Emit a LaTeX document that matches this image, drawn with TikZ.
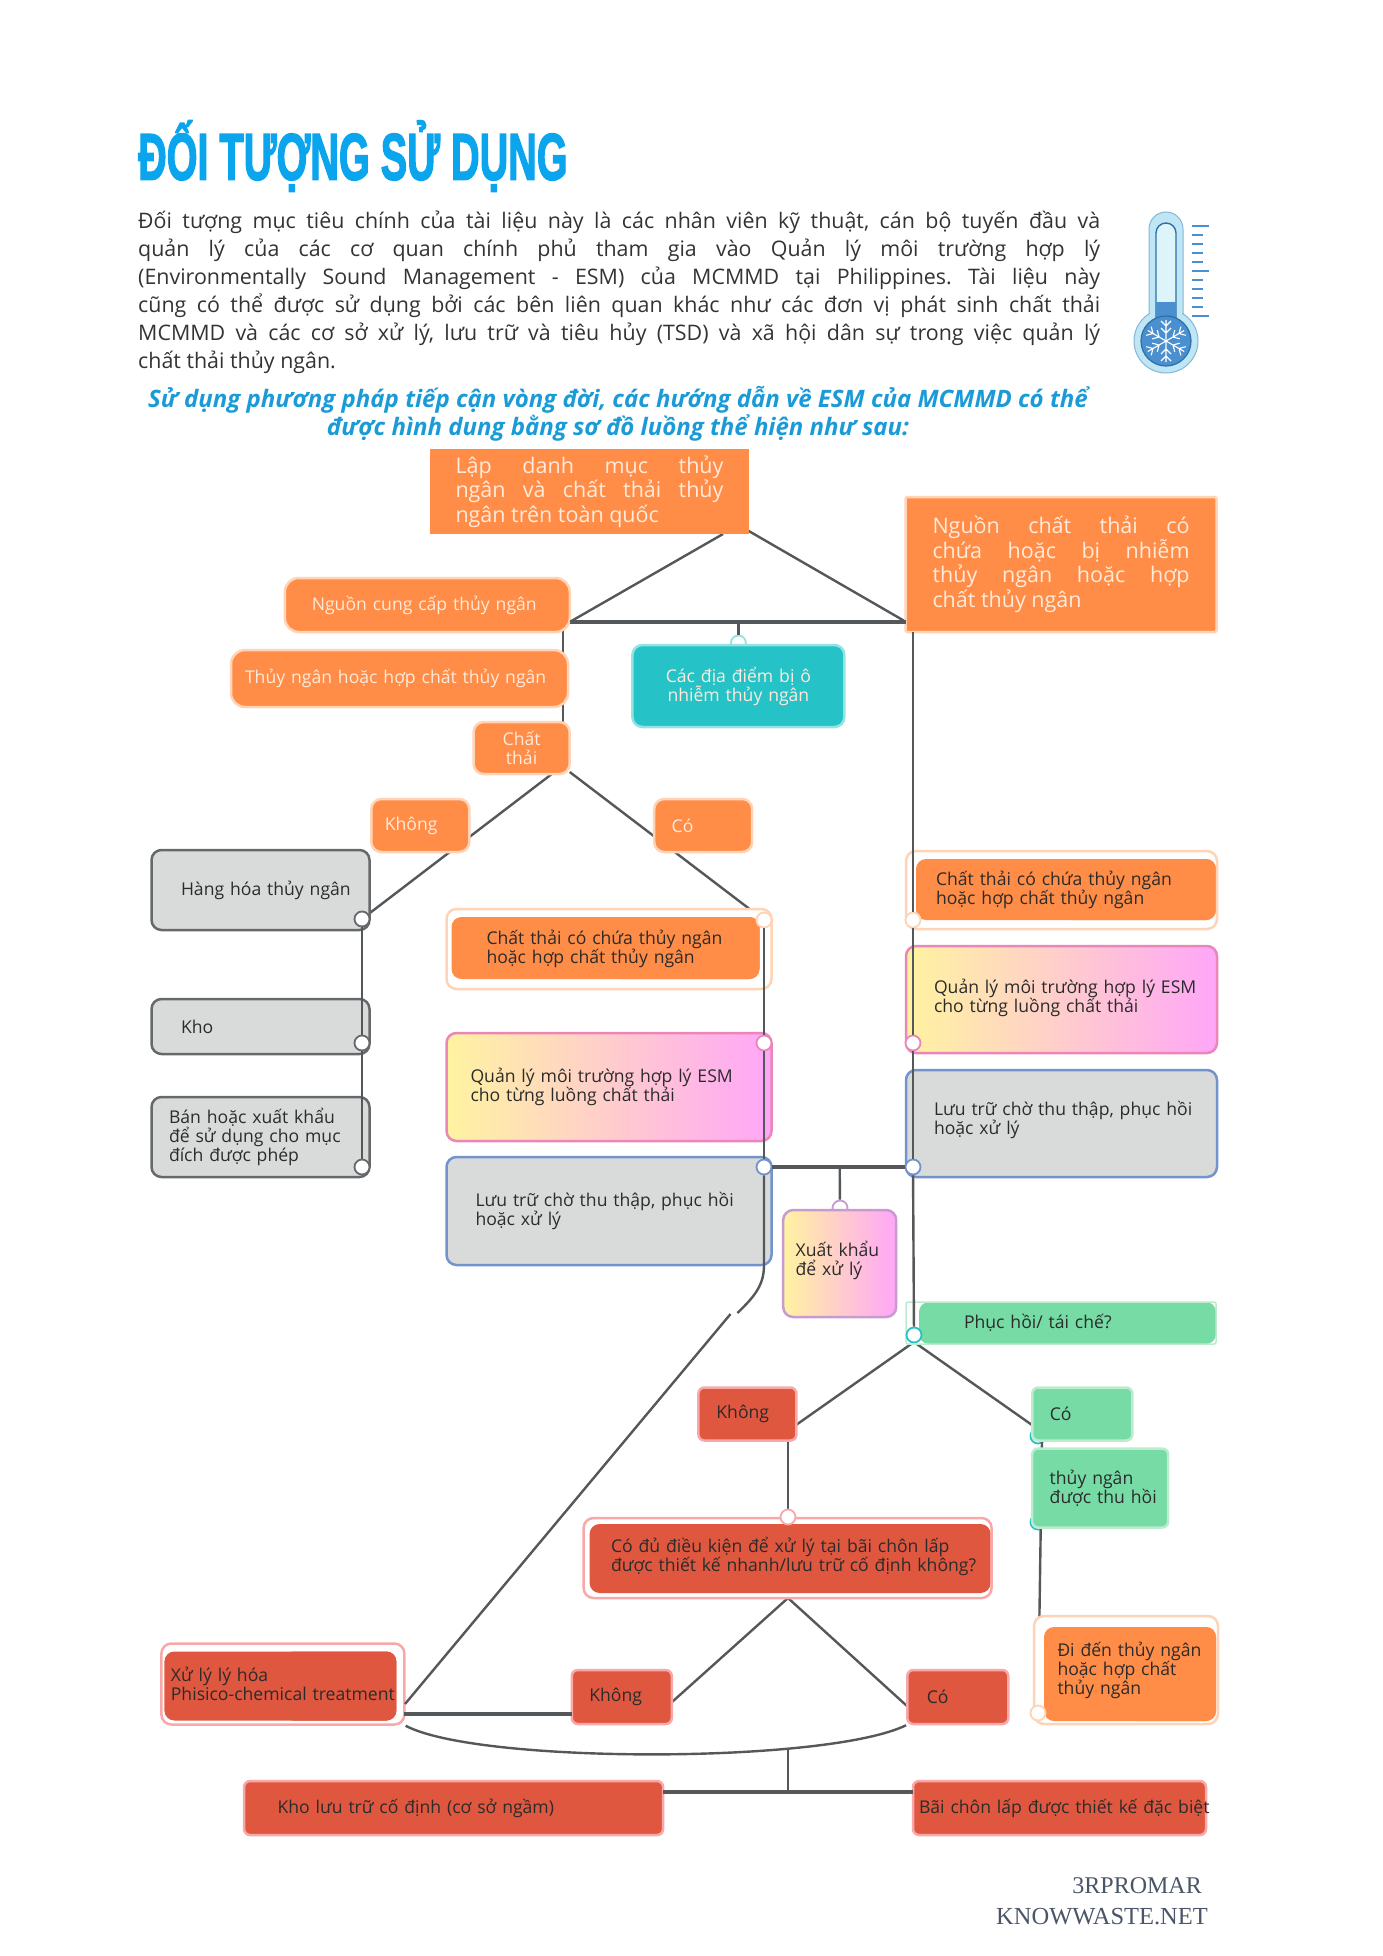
\documentclass[tikz,border=0pt]{standalone}
\usepackage{fontspec}
\setmainfont{Open Sans}
\newfontfamily\titlefont[BoldFeatures={FakeBold=2.5}]{Liberation Sans}
\newfontfamily\footfont{Liberation Serif}
\usetikzlibrary{backgrounds}
\definecolor{titleblue}{HTML}{0AA5EC}
\definecolor{subblue}{HTML}{1A9BD7}
\definecolor{inkdark}{HTML}{2B2B2B}
\definecolor{inkpara}{HTML}{333333}
\definecolor{wire}{HTML}{55585A}
\definecolor{paper}{HTML}{FFEADB}
\definecolor{orangefill}{HTML}{FF8D47}
\definecolor{orangeline}{HTML}{FFD3B5}
\definecolor{tealfill}{HTML}{25C3C7}
\definecolor{tealline}{HTML}{93E3E3}
\definecolor{greyfill}{HTML}{D9DBDB}
\definecolor{greyline}{HTML}{66696B}
\definecolor{redfill}{HTML}{E0573F}
\definecolor{redline}{HTML}{F8A8A8}
\definecolor{greenfill}{HTML}{76DBA5}
\definecolor{greenline}{HTML}{BDEBCD}
\definecolor{gradlo}{HTML}{FFF3A0}
\definecolor{gradhi}{HTML}{FFA6F8}
\definecolor{pinkline}{HTML}{EA86B8}
\definecolor{blueline}{HTML}{7393CC}
\definecolor{mauveline}{HTML}{C79BD0}
\definecolor{thermolight}{HTML}{BFE6F5}
\definecolor{thermotube}{HTML}{DDF4FA}
\definecolor{thermoblue}{HTML}{4A8FD0}
\definecolor{thermodark}{HTML}{2F6FA8}
\definecolor{footink}{HTML}{4A5568}
\tikzset{
  basebox/.style={inner sep=0pt, align=left, font=\fontsize{17.6}{19}\selectfont, text=inkdark, line width=2.5pt, rounded corners=10pt},
  orangebox/.style={basebox, fill=orangefill, draw=orangeline, text=paper},
  bigorange/.style={orangebox, align=justify, font=\fontsize{21.5}{24.5}\selectfont, rounded corners=2pt},
  greybox/.style={basebox, fill=greyfill, draw=greyline},
  gradpink/.style={basebox, left color=gradlo, right color=gradhi, draw=pinkline},
  gradblue/.style={basebox, fill=greyfill, draw=blueline},
  redbox/.style={basebox, fill=redfill, draw=redline, rounded corners=6pt},
  greenbox/.style={basebox, fill=greenfill, draw=greenline, rounded corners=6pt},
  insetbox/.style n args={5}{fill=white, path picture={\fill[#1, rounded corners=10pt] ([xshift=#2pt,yshift=-#3pt]path picture bounding box.north west) rectangle ([xshift=-#4pt,yshift=#5pt]path picture bounding box.south east);}},
  insetsquare/.style n args={5}{fill=white, path picture={\fill[#1, rounded corners=10pt] ([xshift=#2pt,yshift=-#3pt]path picture bounding box.north west) rectangle ([xshift=-#4pt,yshift=#5pt]path picture bounding box.south east);
    \fill[#1] ([yshift=-#3pt]path picture bounding box.north) rectangle ([xshift=-#4pt,yshift=#5pt]path picture bounding box.south east);}},
  portdot/.style={circle, fill=white, line width=1.8pt, inner sep=0pt, minimum size=15pt},
  link/.style={draw=wire, line width=2.4pt},
  thicklink/.style={draw=wire, line width=3.6pt}
}
\begin{document}
\begin{tikzpicture}[x=1pt,y=-1pt]
  \useasboundingbox (0,0) rectangle (1383,1956);
  % heading and paragraph
  \node (title) [anchor=west, inner sep=0pt, xscale=0.6, text=titleblue, font=\titlefont\bfseries\fontsize{66}{70}\selectfont] at (138,156) {ĐỐI TƯỢNG SỬ DỤNG};
  \node (para) [anchor=north west, inner sep=0pt, text width=962pt, align=justify, text=inkpara, font=\frenchspacing\fontsize{21.4}{27.9}\selectfont] at (138,211) {Đối tượng mục tiêu chính của tài liệu này là các nhân viên kỹ thuật, cán bộ tuyến đầu và\linebreak
  quản lý của các cơ quan chính phủ tham gia vào Quản lý môi trường hợp lý\linebreak
  (Environmentally Sound Management - ESM) của MCMMD tại Philippines. Tài liệu này\linebreak
  cũng có thể được sử dụng bởi các bên liên quan khác như các đơn vị phát sinh chất thải\linebreak
  MCMMD và các cơ sở xử lý, lưu trữ và tiêu hủy (TSD) và xã hội dân sự trong việc quản lý\linebreak
  chất thải thủy ngân.};
  \node (lead) [inner sep=0pt, align=center, text=subblue, font=\bfseries\itshape\fontsize{24}{28.5}\selectfont] at (618,414) {Sử dụng phương pháp tiếp cận vòng đời, các hướng dẫn về ESM của MCMMD có thể\\được hình dung bằng sơ đồ luồng thể hiện như sau:};
  % thermometer
  \fill[thermolight, draw=thermodark!40!thermolight, line width=1pt] (1149,320) -- (1149,229) arc (180:360:17) -- (1183,320) -- cycle;
  \fill[thermolight, draw=thermodark!40!thermolight, line width=1pt] (1166,341) circle (32);
  \fill[thermolight] (1150,300) rectangle (1182,330);
  \fill[thermotube, draw=thermodark, line width=1.4pt] (1156,330) -- (1156,233) arc (180:360:10) -- (1176,330) -- cycle;
  \fill[thermoblue] (1156,302) rectangle (1176,335);
  \fill[thermoblue, draw=thermodark, line width=1.2pt] (1166,341) circle (25);
  \foreach \ang in {0,60,...,300}
    \draw[white, line width=1.1pt, rotate around={\ang:(1166,341)}] (1166,341) -- (1166,320) (1166,326) -- (1161,321) (1166,326) -- (1171,321) (1166,333) -- (1161,328) (1166,333) -- (1171,328);
  \foreach \k in {0,...,10}
    \draw[thermoblue, line width=2pt] (1192,226+9*\k) -- (1203,226+9*\k);
  \foreach \k in {0,5,10}
    \draw[thermoblue, line width=2pt] (1192,226+9*\k) -- (1209,226+9*\k);
  % boxes, top
  \node (lap) [bigorange, draw=none, minimum width=319pt, minimum height=85pt, text width=268pt, rounded corners=0pt] at (589.5,491.5) {Lập danh mục thủy\linebreak ngân và chất thải thủy\linebreak ngân trên toàn quốc};
  \node (nguonchat) [bigorange, minimum width=311pt, minimum height=135pt, text width=257pt] at (1061,564.5) {Nguồn chất thải có\linebreak chứa hoặc bị nhiễm\linebreak thủy ngân hoặc hợp\linebreak chất thủy ngân};
  \node (nguoncung) [orangebox, minimum width=285pt, minimum height=54pt, text width=231pt, rounded corners=14pt] at (427.3,605) {Nguồn cung cấp thủy ngân};
  \node (thuyngan) [orangebox, minimum width=337pt, minimum height=57pt, text width=309pt, rounded corners=14pt] at (399.5,678.5) {\mbox{Thủy ngân hoặc hợp chất thủy ngân}};
  \node (diadiem) [basebox, fill=tealfill, draw=tealline, text=paper, align=center, minimum width=212pt, minimum height=82pt, text width=180pt] at (738.4,686) {Các địa điểm bị ô\\nhiễm thủy ngân};
  \node (chatthai) [orangebox, align=center, minimum width=96pt, minimum height=52pt, text width=70pt] at (521.6,748) {Chất\\thải};
  \node (khong) [orangebox, minimum width=98pt, minimum height=53pt, text width=71pt] at (420.3,825.5) {Không};
  \node (co) [orangebox, minimum width=98pt, minimum height=53pt, text width=63pt] at (703.2,825.5) {Có};
  % boxes, left column
  \node (hanghoa) [greybox, minimum width=218pt, minimum height=80pt, text width=159pt] at (260.5,890) {\mbox{Hàng hóa thủy ngân}};
  \node (kho) [greybox, minimum width=218pt, minimum height=55pt, text width=159pt] at (260.5,1026.5) {Kho};
  \node (ban) [greybox, minimum width=218pt, minimum height=80pt, text width=183pt] at (260.5,1137) {Bán hoặc xuất khẩu\\để sử dụng cho mục\\đích được phép};
  % boxes, middle column
  \node (chatl) [basebox, draw=orangeline, insetsquare={orangefill}{5}{8}{12}{10}, minimum width=325pt, minimum height=80pt, text width=245pt] at (609,949) {Chất thải có chứa thủy ngân\\hoặc hợp chất thủy ngân};
  \node (qll) [gradpink, minimum width=325pt, minimum height=108pt, text width=277pt] at (609,1087) {Quản lý môi trường hợp lý ESM\\cho từng luồng chất thải};
  \node (luul) [gradblue, minimum width=325pt, minimum height=108pt, text width=267pt] at (609,1211) {Lưu trữ chờ thu thập, phục hồi\\hoặc xử lý};
  \node (xuat) [basebox, left color=gradlo, right color=gradhi, draw=mauveline, minimum width=113pt, minimum height=107pt, text width=88pt] at (839.7,1263.5) {Xuất khẩu\\để xử lý\rule[-10pt]{0pt}{0pt}};
  % boxes, right column
  \node (chatr) [basebox, draw=orangeline, insetsquare={orangefill}{10}{8}{1}{9}, minimum width=311pt, minimum height=78pt, text width=251pt] at (1061.5,890) {Chất thải có chứa thủy ngân\\hoặc hợp chất thủy ngân\rule[-4pt]{0pt}{0pt}};
  \node (qlr) [gradpink, minimum width=311pt, minimum height=107pt, text width=255pt] at (1061.5,999.5) {\mbox{Quản lý môi trường hợp lý ESM}\\cho từng luồng chất thải\rule[-7pt]{0pt}{0pt}};
  \node (luur) [gradblue, minimum width=311pt, minimum height=107pt, text width=255pt] at (1061.5,1123.5) {\mbox{Lưu trữ chờ thu thập, phục hồi}\\hoặc xử lý\rule[-11pt]{0pt}{0pt}};
  \node (phuchoi) [basebox, draw=greenline, line width=1.5pt, rounded corners=2pt, insetbox={greenfill}{13}{0}{0}{0}, minimum width=310pt, minimum height=42pt, text width=194pt] at (1061,1323) {Phục hồi/ tái chế?};
  % boxes, lower part
  \node (khongred) [redbox, minimum width=98pt, minimum height=53pt, text width=62pt] at (747.4,1414) {Không};
  \node (cogreen) [greenbox, minimum width=100pt, minimum height=53pt, text width=65pt] at (1082.3,1414) {Có};
  \node (thuhoi) [greenbox, minimum width=136pt, minimum height=79pt, text width=101pt] at (1100.2,1488) {thủy ngân\\\mbox{được thu hồi}};
  \node (codu) [basebox, draw=redline, insetbox={redfill}{6}{6}{1}{5}, minimum width=408pt, minimum height=80pt, text width=353pt] at (787.6,1558) {Có đủ điều kiện để xử lý tại bãi chôn lấp\\\mbox{được thiết kế nhanh/lưu trữ cố định không?}\rule[-8pt]{0pt}{0pt}};
  \node (xuly) [basebox, draw=redline, insetsquare={redfill}{3}{8}{8}{4}, minimum width=243pt, minimum height=81pt, text width=224pt] at (282.9,1684) {Xử lý lý hóa\\\mbox{Phisico-chemical treatment}};
  \node (khongdeep) [redbox, minimum width=100pt, minimum height=54pt, text width=65pt] at (621.8,1697) {Không};
  \node (codeep) [redbox, minimum width=101pt, minimum height=54pt, text width=62pt] at (957.8,1697) {Có};
  \node (diden) [basebox, draw=orangeline, insetsquare={orangefill}{10}{11}{2}{3}, minimum width=184pt, minimum height=108pt, text width=137pt] at (1126,1670) {\mbox{Đi đến thủy ngân}\\hoặc hợp chất\\thủy ngân\rule[-4pt]{0pt}{0pt}};
  \node (kholuu) [redbox, minimum width=419pt, minimum height=54pt, text width=352pt] at (453.6,1808) {Kho lưu trữ cố định (cơ sở ngầm)};
  \node (baichon) [redbox, minimum width=293pt, minimum height=54pt, text width=281pt] at (1059.5,1808) {\mbox{Bãi chôn lấp được thiết kế đặc biệt}};
  % footer
  \node (foota) [anchor=east, inner sep=0pt, text=footink, font=\footfont\fontsize{24}{26}\selectfont] at (1202,1886) {3RPROMAR};
  \node (footb) [anchor=east, inner sep=0pt, text=footink, font=\footfont\fontsize{24.5}{26}\selectfont] at (1208,1917) {KNOWWASTE.NET};
  % ports on the boxes
  \node (hhport) [portdot, draw=greyline] at (362,919) {};
  \node (khoport) [portdot, draw=greyline] at (362,1043) {};
  \node (banport) [portdot, draw=greyline] at (362,1167) {};
  \node (chatlport) [portdot, draw=orangeline] at (764,920) {};
  \node (qllport) [portdot, draw=pinkline] at (764,1043) {};
  \node (luulport) [portdot, draw=blueline] at (764,1167) {};
  \node (chatrport) [portdot, draw=orangeline] at (913,920) {};
  \node (qlrport) [portdot, draw=pinkline] at (913,1043) {};
  \node (luurport) [portdot, draw=blueline] at (913,1167) {};
  \node (phucport) [portdot, draw=tealfill] at (914,1335) {};
  \node (duport) [portdot, draw=redline] at (788,1517) {};
  \node (didenport) [portdot, draw=orangeline] at (1038,1713) {};
  % free ends of the wires
  \coordinate (lapfoot) at (723,534);
  \coordinate (lapedge) at (747,530);
  \coordinate (barleft) at (569.7,622);
  \coordinate (barright) at (906.2,622);
  \coordinate (barmid) at (738.4,622);
  \coordinate (stemtop) at (562.8,622);
  \coordinate (stemlow) at (562.8,722);
  \coordinate (rightstem) at (913,632);
  \coordinate (chatfoot) at (551.8,774);
  \coordinate (chatedge) at (569.7,772);
  \coordinate (midtee) at (839.7,1167);
  \coordinate (bendone) at (764,1265);
  \coordinate (bendtwo) at (737.4,1313);
  \coordinate (restart) at (730.5,1314);
  \coordinate (phucfoot) at (914,1342);
  \coordinate (khongedge) at (796,1425);
  \coordinate (coedge) at (1032,1425);
  \coordinate (khongfoot) at (788,1441);
  \coordinate (rightlow) at (1042,1441);
  \coordinate (duapex) at (788,1598);
  \coordinate (deepl) at (672,1702);
  \coordinate (deepr) at (907,1706);
  \coordinate (xulyedge) at (405,1704);
  \coordinate (xulyout) at (404,1714);
  \coordinate (khongin) at (571.8,1714);
  \coordinate (bowlmid) at (788,1750);
  \coordinate (basetee) at (788,1792);
  \coordinate (baseleft) at (663,1792);
  \coordinate (baseright) at (913,1792);
  % wires behind the boxes
  \begin{scope}[on background layer]
    \node (diaport) [portdot, draw=tealline] at (738.4,643) {};
    \node (xuatport) [portdot, draw=mauveline] at (840,1208) {};
    \node (coport) [portdot, draw=tealfill] at (1038,1436) {};
    \node (thuport) [portdot, draw=tealfill] at (1038,1522) {};
    \draw[link] (lapfoot) -- (barleft);
    \draw[link] (lapedge) -- (barright);
    \draw[link] (stemtop) -- (stemlow);
    \draw[link] (barmid) -- (diaport);
    \draw[link] (chatfoot) -- (hhport);
    \draw[link] (chatedge) -- (chatlport);
    \draw[link] (midtee) -- (xuatport);
    \draw[link] (phucfoot) -- (khongedge);
    \draw[link] (phucfoot) -- (coedge);
    \draw[link] (khongfoot) -- (duport);
    \draw[link] (duapex) -- (deepl);
    \draw[link] (duapex) -- (deepr);
    \draw[link] (rightlow) -- (didenport);
  \end{scope}
  % wires over the boxes
  \draw[thicklink] (barleft) -- (barright);
  \draw[link] (rightstem) -- (chatrport);
  \draw[link] (chatrport) -- (qlrport);
  \draw[link] (qlrport) -- (luurport);
  \draw[link] (luurport) -- (phucport);
  \draw[link] (hhport) -- (khoport);
  \draw[link] (khoport) -- (banport);
  \draw[link] (chatlport) -- (qllport);
  \draw[link] (qllport) -- (luulport);
  \draw[link] (luulport) -- (bendone) .. controls (764,1285) and (755,1296) .. (bendtwo);
  \draw[thicklink] (luulport) -- (luurport);
  \draw[link] (restart) -- (xulyedge);
  \draw[thicklink] (xulyout) -- (khongin);
  \draw[link] (xuly.south east) .. controls (478,1764) and (826,1764) .. (codeep.south west);
  \draw[link] (bowlmid) -- (basetee);
  \draw[thicklink] (baseleft) -- (baseright);
\end{tikzpicture}
\end{document}
